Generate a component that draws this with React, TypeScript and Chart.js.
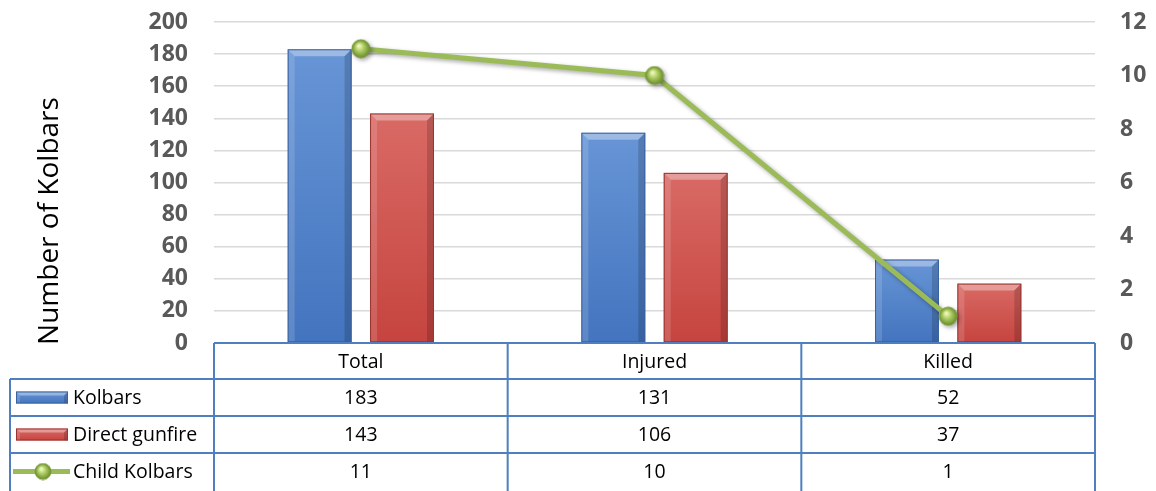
import React, { useEffect, useRef } from "react";
import { Chart, registerables } from "chart.js";

Chart.register(...registerables);

const categories = ["Total", "Injured", "Killed"];
const kolbars = [183, 131, 52];
const directGunfire = [143, 106, 37];
const childKolbars = [11, 10, 1];
const leftTicks = [0, 20, 40, 60, 80, 100, 120, 140, 160, 180, 200];
const rightTicks = [0, 2, 4, 6, 8, 10, 12];
const seriesNames = ["Kolbars", "Direct gunfire", "Child Kolbars"];
const axisTitle = "Number of Kolbars";

const W = 1156;
const H = 491;
const FONT = "'Open Sans', 'Liberation Sans', sans-serif";
const TABLE_BLUE = "#4F7FC0";

function makeSphere(r: number): HTMLCanvasElement {
  const c = document.createElement("canvas");
  const s = r * 2 + 2;
  c.width = s;
  c.height = s;
  const g = c.getContext("2d")!;
  const grad = g.createRadialGradient(s * 0.4, s * 0.35, 1, s / 2, s / 2, r);
  grad.addColorStop(0, "#EAF6B8");
  grad.addColorStop(0.45, "#A9C95E");
  grad.addColorStop(1, "#6A8A2C");
  g.beginPath();
  g.arc(s / 2, s / 2, r, 0, Math.PI * 2);
  g.fillStyle = grad;
  g.fill();
  g.lineWidth = 1;
  g.strokeStyle = "#7A9A3C";
  g.stroke();
  return c;
}

function drawBevelRect(
  c: CanvasRenderingContext2D,
  l: number,
  t: number,
  r: number,
  b: number,
  light: string,
  dark: string,
  border: string,
  bev: number
) {
  const grad = c.createLinearGradient(0, t, 0, b);
  grad.addColorStop(0, light);
  grad.addColorStop(1, dark);
  c.fillStyle = grad;
  c.fillRect(l, t, r - l, b - t);
  c.fillStyle = "rgba(255,255,255,0.35)";
  c.beginPath();
  c.moveTo(l, t);
  c.lineTo(r, t);
  c.lineTo(r - bev, t + bev);
  c.lineTo(l + bev, t + bev);
  c.closePath();
  c.fill();
  c.fillStyle = "rgba(255,255,255,0.14)";
  c.beginPath();
  c.moveTo(l, t);
  c.lineTo(l + bev, t + bev);
  c.lineTo(l + bev, b);
  c.lineTo(l, b);
  c.closePath();
  c.fill();
  c.fillStyle = "rgba(0,0,0,0.16)";
  c.beginPath();
  c.moveTo(r, t);
  c.lineTo(r - bev, t + bev);
  c.lineTo(r - bev, b);
  c.lineTo(r, b);
  c.closePath();
  c.fill();
  c.strokeStyle = border;
  c.lineWidth = 1;
  c.strokeRect(l + 0.5, t + 0.5, r - l - 1, b - t - 1);
}

const barStyles = [
  { light: "#6795D6", dark: "#4374BE", border: "#3A62A0" },
  { light: "#D96A65", dark: "#C6443F", border: "#9A3431" },
];

const bevelPlugin = {
  id: "bevelBars",
  afterDatasetDraw(chart: any, args: any) {
    const meta = args.meta;
    if (meta.type === "line") {
      chart.ctx.restore();
      return;
    }
    if (meta.type !== "bar") return;
    const st = barStyles[args.index];
    if (!st) return;
    const c = chart.ctx;
    c.save();
    meta.data.forEach((el: any) => {
      const l = el.x - el.width / 2;
      const r = el.x + el.width / 2;
      const t = Math.min(el.y, el.base);
      const b = Math.max(el.y, el.base);
      drawBevelRect(c, l, t, r, b, st.light, st.dark, st.border, 7);
    });
    c.restore();
  },
  beforeDatasetDraw(chart: any, args: any) {
    if (args.meta.type === "line") {
      const c = chart.ctx;
      c.save();
      c.shadowColor = "rgba(0,0,0,0.35)";
      c.shadowBlur = 4;
      c.shadowOffsetX = 2;
      c.shadowOffsetY = 2;
    }
  },
};

let sphereSmall: HTMLCanvasElement;

const tablePlugin = {
  id: "dataTable",
  afterDraw(chart: any) {
    const c: CanvasRenderingContext2D = chart.ctx;
    const area = chart.chartArea;
    const xs = chart.scales.x;
    const n = categories.length;
    const colW = (area.right - area.left) / n;
    const top = area.bottom;
    const rowH = 37;
    const headerH = 36;
    const legendLeft = 10;
    const rowsTop = top + headerH;
    c.save();

    c.save();
    c.translate(50, 221);
    c.rotate(-Math.PI / 2);
    c.fillStyle = "#000";
    c.font = `28px ${FONT}`;
    c.textAlign = "center";
    c.textBaseline = "middle";
    c.fillText(axisTitle, 0, 0);
    c.restore();

    c.strokeStyle = TABLE_BLUE;
    c.lineWidth = 2;
    c.beginPath();
    c.moveTo(area.left, top);
    c.lineTo(area.right, top);
    for (let i = 0; i <= n; i++) {
      const x = area.left + i * colW;
      c.moveTo(x, top);
      c.lineTo(x, H);
    }
    for (let r = 0; r < seriesNames.length; r++) {
      const y = rowsTop + r * rowH;
      c.moveTo(legendLeft, y);
      c.lineTo(area.right, y);
    }
    c.moveTo(legendLeft, rowsTop);
    c.lineTo(legendLeft, H);
    c.stroke();

    c.fillStyle = "#000";
    c.font = `19.5px ${FONT}`;
    c.textBaseline = "middle";
    c.textAlign = "center";
    categories.forEach((cat, i) => {
      c.fillText(cat, xs.getPixelForValue(i), top + headerH / 2 + 1);
    });
    const rowsData = [kolbars, directGunfire, childKolbars];
    rowsData.forEach((arr, r) => {
      const cy = rowsTop + r * rowH + rowH / 2 + 1;
      arr.forEach((v, i) => {
        c.fillText(String(v), xs.getPixelForValue(i), cy);
      });
    });

    c.textAlign = "left";
    seriesNames.forEach((name, r) => {
      const cy = rowsTop + r * rowH + rowH / 2;
      if (r < 2) {
        const st = barStyles[r];
        drawBevelRect(c, 16, cy - 6, 68, cy + 6, st.light, st.dark, st.border, 4);
      } else {
        c.save();
        c.strokeStyle = "#9BBB59";
        c.lineWidth = 5;
        c.beginPath();
        c.moveTo(13, cy);
        c.lineTo(70, cy);
        c.stroke();
        c.restore();
        c.drawImage(sphereSmall, 43 - sphereSmall.width / 2, cy - sphereSmall.height / 2);
      }
      c.fillStyle = "#000";
      c.fillText(name, 73, cy + 1);
    });
    c.restore();
  },
};

export default function App() {
  const ref = useRef<HTMLCanvasElement>(null);
  useEffect(() => {
    document.body.style.margin = "0";
    sphereSmall = makeSphere(8);
    const sphere = makeSphere(9);
    const chart = new Chart(ref.current!, {
      type: "bar",
      data: {
        labels: categories,
        datasets: [
          {
            type: "bar",
            label: seriesNames[0],
            data: kolbars,
            backgroundColor: "rgba(0,0,0,0)",
            yAxisID: "y",
            order: 2,
            categoryPercentage: 0.561,
            barPercentage: 0.776,
          },
          {
            type: "bar",
            label: seriesNames[1],
            data: directGunfire,
            backgroundColor: "rgba(0,0,0,0)",
            yAxisID: "y",
            order: 2,
            categoryPercentage: 0.561,
            barPercentage: 0.776,
          },
          {
            type: "line",
            label: seriesNames[2],
            data: childKolbars,
            borderColor: "#9BBB59",
            borderWidth: 5,
            pointStyle: sphere as any,
            pointRadius: 9,
            yAxisID: "y1",
            order: 0,
            tension: 0,
          } as any,
        ],
      },
      options: {
        responsive: false,
        animation: false,
        layout: { padding: { top: 22, bottom: H - 343, left: 0, right: 0 } },
        plugins: {
          legend: { display: false },
          tooltip: { enabled: false },
        },
        scales: {
          x: { display: false, offset: true },
          y: {
            position: "left",
            min: 0,
            max: 200,
            afterFit: (s: any) => {
              s.width = 214;
            },
            afterBuildTicks: (s: any) => {
              s.ticks = leftTicks.map((v) => ({ value: v }));
            },
            border: { display: false },
            grid: {
              color: "#D9D9D9",
              lineWidth: 1.5,
              drawTicks: true,
              tickLength: 26,
              tickColor: "rgba(0,0,0,0)",
            },
            ticks: {
              padding: 0,
              color: "#595959",
              font: { family: FONT, size: 23, weight: "bold" },
            },
          },
          y1: {
            position: "right",
            min: 0,
            max: 12,
            afterFit: (s: any) => {
              s.width = W - 1095;
            },
            afterBuildTicks: (s: any) => {
              s.ticks = rightTicks.map((v) => ({ value: v }));
            },
            border: { display: false },
            grid: {
              display: true,
              drawOnChartArea: false,
              drawTicks: true,
              tickLength: 25,
              tickColor: "rgba(0,0,0,0)",
              color: "rgba(0,0,0,0)",
            },
            ticks: {
              padding: 0,
              color: "#595959",
              font: { family: FONT, size: 23, weight: "bold" },
            },
          },
        },
      },
      plugins: [bevelPlugin as any, tablePlugin as any],
    });
    return () => chart.destroy();
  }, []);
  return (
    <div style={{ position: "absolute", left: 0, top: 0, width: W, height: H }}>
      <canvas ref={ref} width={W} height={H} />
    </div>
  );
}
